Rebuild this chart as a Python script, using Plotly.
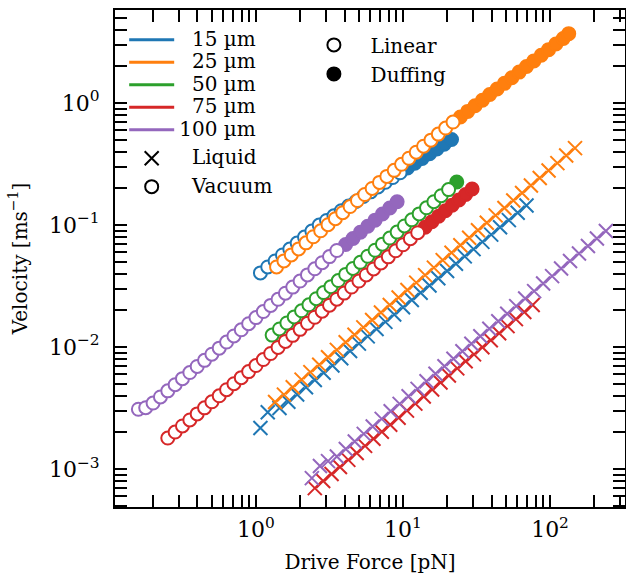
import plotly.graph_objects as go

# ---------------- data ----------------
# Vacuum, 15 um
vac15_lin_force = [1.072, 1.202, 1.349, 1.514, 1.698, 1.905, 2.138, 2.399, 2.692, 3.020, 3.388,
                   3.802, 4.266, 4.786, 5.370, 6.026, 6.761, 7.586, 8.511, 9.550]
vac15_lin_vel = [0.0405, 0.0453, 0.0507, 0.0568, 0.0635, 0.0711, 0.0796, 0.0891, 0.0998, 0.109, 0.119,
                 0.131, 0.143, 0.156, 0.171, 0.187, 0.205, 0.224, 0.245, 0.268]
vac15_duf_force = [10.72, 12.02, 13.49, 15.14, 16.98, 19.05, 21.38]
vac15_duf_vel = [0.293, 0.321, 0.351, 0.384, 0.420, 0.459, 0.502]

# Vacuum, 25 um
vac25_lin_force = [1.380, 1.549, 1.738, 1.950, 2.188, 2.455, 2.754, 3.090, 3.467, 3.890, 4.365, 4.898,
                   5.495, 6.166, 6.918, 7.762, 8.710, 9.772, 10.96, 12.30, 13.80, 15.49, 17.38, 19.50, 21.88]
vac25_lin_vel = [0.0453, 0.0508, 0.0569, 0.0637, 0.0714, 0.0801, 0.0897, 0.1006, 0.1127, 0.1263, 0.1416,
                 0.1586, 0.1778, 0.1993, 0.2234, 0.2503, 0.2805, 0.3144, 0.3524, 0.3949, 0.4426, 0.4960,
                 0.5559, 0.6230, 0.6982]
vac25_duf_force = [24.55, 27.54, 30.90, 34.67, 38.90, 43.65, 48.98, 54.95, 61.66, 69.18, 77.62, 87.10,
                   97.72, 109.6, 123.0, 134.0]
vac25_duf_vel = [0.767, 0.853, 0.948, 1.054, 1.172, 1.303, 1.449, 1.611, 1.791, 1.991, 2.213, 2.460,
                 2.735, 3.041, 3.381, 3.700]

# Vacuum, 50 um
vac50_lin_force = [1.288, 1.445, 1.622, 1.820, 2.042, 2.291, 2.570, 2.884, 3.236, 3.631, 4.074, 4.571,
                   5.129, 5.754, 6.457, 7.244, 8.128, 9.120, 10.23, 11.48, 12.88, 14.45, 16.22, 18.20, 20.42]
vac50_lin_vel = [0.01253, 0.01406, 0.01574, 0.01766, 0.01982, 0.02218, 0.02489, 0.02793, 0.03126, 0.03508,
                 0.03936, 0.04406, 0.04943, 0.05546, 0.06209, 0.06966, 0.07816, 0.08750, 0.09817, 0.1102,
                 0.1233, 0.1384, 0.1552, 0.1738, 0.1950]
vac50_duf_force = [23.2]
vac50_duf_vel = [0.225]

# Vacuum, 75 um
vac75_lin_force = [0.2512, 0.2818, 0.3162, 0.3548, 0.3981, 0.4467, 0.5012, 0.5623, 0.6310, 0.7079, 0.7943,
                   0.8913, 1.000, 1.122, 1.259, 1.413, 1.585, 1.778, 1.995, 2.239, 2.512, 2.818, 3.162,
                   3.548, 3.981, 4.467, 5.012, 5.623, 6.310, 7.079, 7.943, 8.913, 10.00, 11.22, 12.59]
vac75_lin_vel = [0.001795, 0.002011, 0.002254, 0.002526, 0.002831, 0.003173, 0.003556, 0.003986, 0.004467,
                 0.005006, 0.005610, 0.006287, 0.007047, 0.007896, 0.008851, 0.009920, 0.01112, 0.01246,
                 0.01396, 0.01565, 0.01754, 0.01966, 0.02203, 0.02469, 0.02767, 0.03101, 0.03475, 0.03895,
                 0.04365, 0.04892, 0.05483, 0.06144, 0.06887, 0.07718, 0.08650]
vac75_duf_force = [14.13, 15.70, 17.46, 19.41, 21.58, 23.99, 26.67, 29.51]
vac75_duf_vel = [0.0959, 0.1064, 0.1180, 0.1310, 0.1452, 0.1603, 0.1778, 0.1972]

# Vacuum, 100 um
vac100_lin_force = [0.1585, 0.1778, 0.1995, 0.2239, 0.2512, 0.2818, 0.3162, 0.3548, 0.3981, 0.4467, 0.5012,
                    0.5623, 0.6310, 0.7079, 0.7943, 0.8913, 1.000, 1.122, 1.259, 1.413, 1.585, 1.778, 1.995,
                    2.239, 2.512, 2.818, 3.162, 3.548]
vac100_lin_vel = [0.003090, 0.003184, 0.003475, 0.003899, 0.004375, 0.004909, 0.005508, 0.006180, 0.006934,
                  0.007780, 0.008730, 0.009795, 0.01099, 0.01233, 0.01384, 0.01552, 0.01742, 0.01954,
                  0.02193, 0.02460, 0.02761, 0.03097, 0.03475, 0.03899, 0.04375, 0.04909, 0.05508, 0.06180]
vac100_duf_force = [4.074, 4.571, 5.129, 5.754, 6.457, 7.244, 8.128, 9.120]
vac100_duf_vel = [0.0692, 0.0776, 0.0871, 0.0977, 0.1096, 0.1230, 0.1380, 0.1549]

# Liquid
liq15_force = [1.072, 1.202, 1.445, 1.660, 1.905, 2.188, 2.512, 2.884, 3.311, 3.802, 4.365, 5.012, 5.754,
               6.607, 7.586, 8.710, 10.00, 11.48, 13.18, 15.14, 17.38, 19.95, 22.91, 26.30, 30.20, 34.67,
               39.81, 45.71, 52.48, 60.26, 69.18]
liq15_vel = [0.002168, 0.002917, 0.003162, 0.003556, 0.004083, 0.004677, 0.005370, 0.006152, 0.007063,
             0.008091, 0.009290, 0.01067, 0.01222, 0.01403, 0.01607, 0.01845, 0.02118, 0.02427, 0.02786,
             0.03192, 0.03664, 0.04198, 0.04819, 0.05534, 0.06339, 0.07278, 0.08337, 0.09572, 0.1096,
             0.1259, 0.1445]

liq25_force = [1.349, 1.549, 1.778, 2.042, 2.344, 2.692, 3.090, 3.548, 4.074, 4.677, 5.370, 6.166, 7.079,
               8.128, 9.333, 10.72, 12.30, 14.13, 16.22, 18.62, 21.38, 24.55, 28.18, 32.36, 37.15, 42.66,
               48.98, 56.23, 64.57, 74.13, 85.11, 97.72, 112.2, 128.8, 147.9]
liq25_vel = [0.003540, 0.004074, 0.004688, 0.005408, 0.006223, 0.007161, 0.008241, 0.009484, 0.01094,
             0.01259, 0.01449, 0.01667, 0.01919, 0.02213, 0.02547, 0.02931, 0.03373, 0.03882, 0.04477,
             0.05152, 0.05929, 0.06823, 0.07852, 0.09057, 0.1042, 0.1199, 0.1380, 0.1589, 0.1832,
             0.2109, 0.2427, 0.2793, 0.3214, 0.3707, 0.4266]

liq75_force = [2.512, 2.864, 3.266, 3.724, 4.246, 4.842, 5.521, 6.295, 7.178, 8.185, 9.333, 10.64, 12.13,
               13.84, 15.78, 17.99, 20.51, 23.39, 26.67, 30.41, 34.67, 39.54, 45.08, 51.40, 58.61, 66.83,
               76.21]
liq75_vel = [0.000698, 0.000798, 0.000910, 0.001040, 0.001189, 0.001355, 0.001549, 0.001770, 0.002023,
             0.002307, 0.002636, 0.003013, 0.003436, 0.003926, 0.004487, 0.005117, 0.005848, 0.006683,
             0.007638, 0.008710, 0.009954, 0.01138, 0.01297, 0.01483, 0.01694, 0.01936, 0.02208]

liq100_force = [2.399, 2.723, 3.090, 3.548, 4.083, 4.699, 5.408, 6.223, 7.161, 8.241, 9.484, 10.91, 12.56,
                14.45, 16.63, 19.14, 22.03, 25.35, 29.17, 33.57, 38.64, 44.46, 51.17, 58.88, 67.76, 77.98,
                89.74, 103.3, 118.9, 136.8, 157.4, 181.1, 208.4, 239.9]
liq100_vel = [0.000843, 0.001059, 0.001161, 0.001268, 0.001462, 0.001683, 0.001941, 0.002234, 0.002576,
              0.002972, 0.003420, 0.003945, 0.004539, 0.005236, 0.006039, 0.006950, 0.008017, 0.009226,
              0.01064, 0.01227, 0.01413, 0.01629, 0.01875, 0.02163, 0.02495, 0.02871, 0.03311, 0.03811,
              0.04395, 0.05070, 0.05834, 0.06730, 0.07745, 0.08933]

size_labels = ["\u200715 µm", "\u200725 µm", "\u200750 µm", "\u200775 µm", "100 µm"]
colors = ["#1f77b4", "#ff7f0e", "#2ca02c", "#d62728", "#9467bd"]

x_tickvals = [1, 10, 100]
x_ticktext = ["10<sup>0</sup>", "10<sup>1</sup>", "10<sup>2</sup>"]
y_tickvals = [0.001, 0.01, 0.1, 1]
y_ticktext = ["10<sup>\u22123</sup>", "10<sup>\u22122</sup>", "10<sup>\u22121</sup>", "10<sup>0</sup>"]

vacuum = [
    (vac15_lin_force, vac15_lin_vel, vac15_duf_force, vac15_duf_vel),
    (vac25_lin_force, vac25_lin_vel, vac25_duf_force, vac25_duf_vel),
    (vac50_lin_force, vac50_lin_vel, vac50_duf_force, vac50_duf_vel),
    (vac75_lin_force, vac75_lin_vel, vac75_duf_force, vac75_duf_vel),
    (vac100_lin_force, vac100_lin_vel, vac100_duf_force, vac100_duf_vel),
]
liquid = [
    (liq15_force, liq15_vel, colors[0]),
    (liq25_force, liq25_vel, colors[1]),
    (liq75_force, liq75_vel, colors[3]),
    (liq100_force, liq100_vel, colors[4]),
]

FONT = "DejaVu Serif"
CIRCLE = 13
XSIZE = 14
LW = 2


def big(t):
    return f'<span style="font-size:20px">{t}</span>'


fig = go.Figure()

# liquid (crosses)
for xf, yv, c in liquid:
    fig.add_trace(go.Scatter(x=xf, y=yv, mode="markers", showlegend=False, hoverinfo="skip",
                             marker=dict(symbol="x-thin", size=XSIZE, line=dict(color=c, width=LW))))

# vacuum: Duffing (filled) then linear (open)
for (lf, lv, df, dv), c in zip(vacuum, colors):
    fig.add_trace(go.Scatter(x=df, y=dv, mode="markers", showlegend=False, hoverinfo="skip",
                             marker=dict(symbol="circle", size=CIRCLE, color=c,
                                         line=dict(color=c, width=LW))))
    fig.add_trace(go.Scatter(x=lf, y=lv, mode="markers", showlegend=False, hoverinfo="skip",
                             marker=dict(symbol="circle", size=CIRCLE, color="white",
                                         line=dict(color=c, width=LW))))

# legend 1 entries
for lab, c in zip(size_labels, colors):
    fig.add_trace(go.Scatter(x=[None], y=[None], mode="lines", name=big(lab),
                             line=dict(color=c, width=3), legend="legend", legendgroup="a"))
fig.add_trace(go.Scatter(x=[None], y=[None], mode="markers", name=big("\u2007Liquid"),
                         marker=dict(symbol="x-thin", size=XSIZE, line=dict(color="black", width=LW)),
                         legend="legend", legendgroup="b"))
fig.add_trace(go.Scatter(x=[None], y=[None], mode="markers", name=big("\u2007Vacuum"),
                         marker=dict(symbol="circle", size=CIRCLE, color="white",
                                     line=dict(color="black", width=LW)),
                         legend="legend", legendgroup="c"))
# legend 2 entries
fig.add_trace(go.Scatter(x=[None], y=[None], mode="markers", name="\u2007\u2009Linear",
                         marker=dict(symbol="circle", size=CIRCLE, color="white",
                                     line=dict(color="black", width=LW)), legend="legend2"))
fig.add_trace(go.Scatter(x=[None], y=[None], mode="markers", name="\u2007\u2009Duffing",
                         marker=dict(symbol="circle", size=CIRCLE, color="black",
                                     line=dict(color="black", width=LW)), legend="legend2"))

x_minor = [v * m for m in (0.1, 1, 10, 100) for v in range(2, 10)]
y_minor = [v * m for m in (0.0001, 0.001, 0.01, 0.1, 1) for v in range(2, 10)]

axis_common = dict(
    type="log", showline=True, linecolor="black", linewidth=2, mirror="ticks",
    ticks="inside", ticklen=12, tickwidth=2, tickcolor="black",
    showgrid=False, zeroline=False, tickmode="array", automargin=False,
    tickfont=dict(family=FONT, size=22, color="black"),
)

fig.update_layout(
    width=626, height=574,
    margin=dict(l=115, r=1, t=10, b=67),
    paper_bgcolor="white", plot_bgcolor="white",
    font=dict(family=FONT, color="black"),
    xaxis=dict(**axis_common, range=[-0.959, 2.51], tickvals=x_tickvals, ticktext=x_ticktext,
               ticklabelstandoff=2,
               minor=dict(ticks="inside", ticklen=12, tickwidth=2, tickcolor="black",
                          tickmode="array", tickvals=x_minor, showgrid=False),
               title=dict(text="Drive Force [pN]", font=dict(family=FONT, size=20), standoff=14)),
    yaxis=dict(**axis_common, range=[-3.311, 0.762], tickvals=y_tickvals, ticktext=y_ticktext,
               ticklabelstandoff=9,
               minor=dict(ticks="inside", ticklen=12, tickwidth=2, tickcolor="black",
                          tickmode="array", tickvals=y_minor, showgrid=False),
               title=dict(text="Velocity [ms<sup>\u22121</sup>]", font=dict(family=FONT, size=20), standoff=16)),
    legend=dict(x=0.018, y=0.973, xanchor="left", yanchor="top", bgcolor="rgba(0,0,0,0)",
                font=dict(family=FONT, size=15), itemwidth=45, tracegroupgap=6,
                traceorder="grouped"),
    legend2=dict(x=0.39, y=0.969, xanchor="left", yanchor="top", bgcolor="rgba(0,0,0,0)",
                 font=dict(family=FONT, size=20), itemwidth=30),
    showlegend=True,
)

fig.write_html("out.html", config={"displayModeBar": False},
               post_script="document.body.style.margin='0';document.body.style.overflow='hidden';")
